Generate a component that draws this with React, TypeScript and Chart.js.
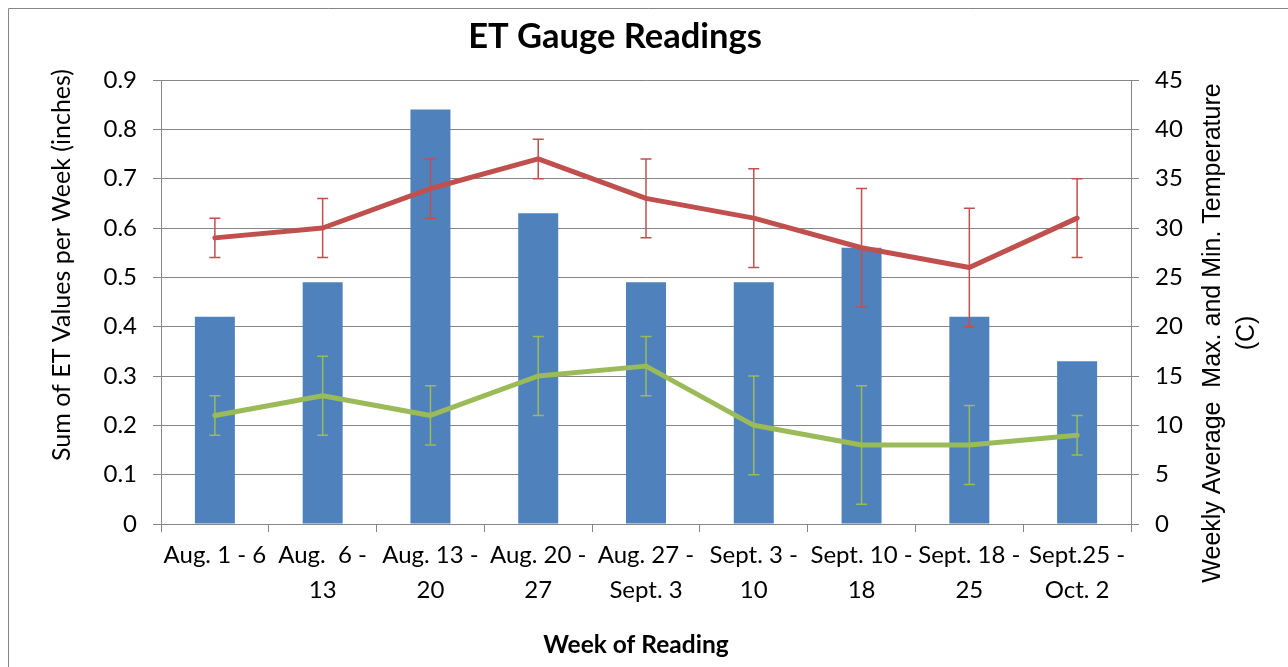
import React, { useEffect, useRef } from "react";
import { Chart, registerables } from "chart.js";

Chart.register(...registerables);

// ---- Data ----
const categories: string[][] = [
  ["Aug. 1 - 6"],
  ["Aug.  6 -", "13"],
  ["Aug. 13 -", "20"],
  ["Aug. 20 -", "27"],
  ["Aug. 27 -", "Sept. 3"],
  ["Sept. 3 -", "10"],
  ["Sept. 10 -", "18"],
  ["Sept. 18 -", "25"],
  ["Sept.25 -", "Oct. 2"],
];
const etValues = [0.42, 0.49, 0.84, 0.63, 0.49, 0.49, 0.56, 0.42, 0.33];
const maxTemp = [29, 30, 34, 37, 33, 31, 28, 26, 31];
const maxTempLow = [27, 27, 31, 35, 29, 26, 22, 20, 27];
const maxTempHigh = [31, 33, 37, 39, 37, 36, 34, 32, 35];
const minTemp = [11, 13, 11, 15, 16, 10, 8, 8, 9];
const minTempLow = [9, 9, 8, 11, 13, 5, 2, 4, 7];
const minTempHigh = [13, 17, 14, 19, 19, 15, 14, 12, 11];
const leftMax = 0.9;
const leftStep = 0.1;
const rightMax = 45;
const rightStep = 5;

const chartTitle = "ET Gauge Readings";
const xTitle = "Week of Reading";
const leftTitle = "Sum of ET Values per Week (inches)";
const rightTitle = ["Weekly Average  Max. and Min. Temperature", "(C)"];

const BLUE = "#4F81BD";
const RED = "#C0504D";
const GREEN = "#9BBB59";
const GRID = "#868686";
const FONT = "Lato";

const errorBars: { dataset: number; low: number[]; high: number[]; color: string }[] = [
  { dataset: 1, low: maxTempLow, high: maxTempHigh, color: RED },
  { dataset: 2, low: minTempLow, high: minTempHigh, color: GREEN },
];

const errorBarPlugin = {
  id: "errorBars",
  afterDatasetsDraw(chart: any) {
    const ctx = chart.ctx;
    const y1 = chart.scales.y1;
    ctx.save();
    ctx.lineWidth = 1.5;
    for (const eb of errorBars) {
      const meta = chart.getDatasetMeta(eb.dataset);
      ctx.strokeStyle = eb.color;
      meta.data.forEach((pt: any, i: number) => {
        const x = pt.x;
        const yl = y1.getPixelForValue(eb.low[i]);
        const yh = y1.getPixelForValue(eb.high[i]);
        ctx.beginPath();
        ctx.moveTo(x, yl);
        ctx.lineTo(x, yh);
        ctx.moveTo(x - 5.5, yl);
        ctx.lineTo(x + 5.5, yl);
        ctx.moveTo(x - 5.5, yh);
        ctx.lineTo(x + 5.5, yh);
        ctx.stroke();
      });
    }
    ctx.restore();
  },
};

const decorPlugin = {
  id: "decor",
  beforeDraw(chart: any) {
    const ctx = chart.ctx;
    ctx.save();
    ctx.strokeStyle = GRID;
    ctx.lineWidth = 1;
    ctx.beginPath();
    ctx.moveTo(0.5, chart.height);
    ctx.lineTo(0.5, 0.5);
    ctx.lineTo(chart.width, 0.5);
    ctx.stroke();
    ctx.restore();
  },
  afterDraw(chart: any) {
    const ctx = chart.ctx;
    ctx.save();
    ctx.fillStyle = "#000";
    ctx.textAlign = "center";
    ctx.textBaseline = "alphabetic";
    ctx.font = `bold 34.5px ${FONT}`;
    ctx.fillText(chartTitle, 607, 40);
    ctx.font = `bold 24.5px ${FONT}`;
    ctx.fillText(xTitle, 628, 645);

    ctx.textBaseline = "middle";
    ctx.font = `25px ${FONT}`;
    ctx.save();
    ctx.translate(54, 257);
    ctx.rotate(-Math.PI / 2);
    ctx.fillText(leftTitle, 0, 0);
    ctx.restore();

    ctx.font = `25px "Liberation Sans", Arial, sans-serif`;
    rightTitle.forEach((line, i) => {
      ctx.save();
      ctx.translate(1205 + i * 34, 325);
      ctx.rotate(-Math.PI / 2);
      ctx.fillText(line, 0, 0);
      ctx.restore();
    });
    ctx.restore();
  },
};

function ETChart() {
  const ref = useRef<HTMLCanvasElement | null>(null);
  useEffect(() => {
    let chart: Chart | null = null;
    let cancelled = false;
    const make = () => {
      if (cancelled || !ref.current) return;
      const tickFont = { family: FONT, size: 24, lineHeight: 1.45 };
      chart = new Chart(ref.current, {
        type: "bar",
        data: {
          labels: categories as any,
          datasets: [
            {
              type: "bar",
              label: "ET",
              data: etValues,
              backgroundColor: BLUE,
              borderWidth: 0,
              barPercentage: 0.371,
              categoryPercentage: 1,
              yAxisID: "y",
              order: 3,
            },
            {
              type: "line",
              label: "Max",
              data: maxTemp,
              borderColor: RED,
              backgroundColor: RED,
              borderWidth: 5,
              pointRadius: 0,
              borderJoinStyle: "round",
              borderCapStyle: "round",
              tension: 0,
              yAxisID: "y1",
              order: 1,
            },
            {
              type: "line",
              label: "Min",
              data: minTemp,
              borderColor: GREEN,
              backgroundColor: GREEN,
              borderWidth: 5,
              pointRadius: 0,
              borderJoinStyle: "round",
              borderCapStyle: "round",
              tension: 0,
              yAxisID: "y1",
              order: 2,
            },
          ] as any,
        },
        options: {
          animation: false,
          responsive: true,
          maintainAspectRatio: false,
          layout: { padding: { top: 72, left: 0, right: 0, bottom: 0 } },
          plugins: {
            legend: { display: false },
            tooltip: { enabled: false },
            title: { display: false },
          },
          scales: {
            x: {
              type: "category",
              offset: true,
              grid: {
                offset: true,
                drawOnChartArea: false,
                drawTicks: true,
                tickLength: 8,
                color: GRID,
              },
              border: { color: GRID, width: 1 },
              ticks: {
                color: "#000",
                font: tickFont,
                padding: 6,
                maxRotation: 0,
                minRotation: 0,
                autoSkip: false,
              },
              afterFit: (s: any) => {
                s.height = 143;
              },
            },
            y: {
              position: "left",
              min: 0,
              max: leftMax,
              grid: { color: GRID, tickLength: 8 },
              border: { color: GRID, width: 1 },
              ticks: {
                stepSize: leftStep,
                color: "#000",
                font: { family: FONT, size: 24 },
                padding: 16,
                callback: (v: any) => (Number(v) === 0 ? "0" : Number(v).toFixed(1)),
              },
              afterFit: (s: any) => {
                s.width = 153;
              },
            },
            y1: {
              position: "right",
              min: 0,
              max: rightMax,
              grid: { color: GRID, tickLength: 8, drawOnChartArea: false },
              border: { color: GRID, width: 1 },
              ticks: {
                stepSize: rightStep,
                color: "#000",
                font: { family: FONT, size: 24 },
                padding: 16,
              },
              afterFit: (s: any) => {
                s.width = 157;
              },
            },
          },
        } as any,
        plugins: [errorBarPlugin, decorPlugin],
      });
    };
    const fonts = (document as any).fonts;
    if (fonts && fonts.load) {
      Promise.all([
        fonts.load(`24px ${FONT}`),
        fonts.load(`bold 24px ${FONT}`),
        fonts.load(`24px "Liberation Sans"`),
      ])
        .catch(() => {})
        .then(make);
    } else {
      make();
    }
    return () => {
      cancelled = true;
      if (chart) chart.destroy();
    };
  }, []);
  return (
    <div style={{ position: "fixed", left: 8, top: 8, width: 1280, height: 659, background: "#fff" }}>
      <canvas ref={ref} />
    </div>
  );
}

export default function App() {
  return <ETChart />;
}
